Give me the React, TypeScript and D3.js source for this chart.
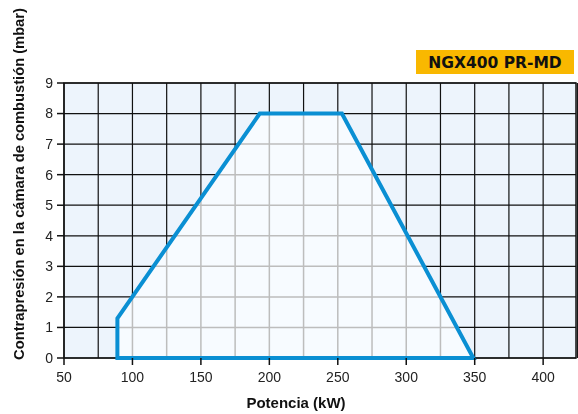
import React from 'react';
import * as d3 from 'd3';

const powerPoints = [89, 89, 193, 253, 349];
const pressurePoints = [0, 1.3, 8, 8, 0];
const xTicks = [50, 100, 150, 200, 250, 300, 350, 400];
const yTicks = [0, 1, 2, 3, 4, 5, 6, 7, 8, 9];
const xGrid = d3.range(50, 425.1, 25);
const title = 'NGX400 PR-MD';

const W = 578;
const H = 414;
const margin = { top: 83, right: 2, bottom: 56, left: 64 };

export default function App() {
  const x = d3.scaleLinear().domain([50, 424]).range([margin.left, W - margin.right]);
  const y = d3.scaleLinear().domain([0, 9]).range([H - margin.bottom, margin.top]);

  const pts: [number, number][] = powerPoints.map((p, i) => [x(p), y(pressurePoints[i])]);
  const poly = (d3.line()(pts) || '') + 'Z';

  const x0 = x(50), x1 = x(424), y0 = y(0), y1 = y(9);
  const font = '"Liberation Sans", Arial, Helvetica, sans-serif';

  const grid = (stroke: string, w: number) => (
    <g stroke={stroke} strokeWidth={w}>
      {xGrid.map(v => <line key={'x' + v} x1={x(v)} x2={x(v)} y1={y1} y2={y0} />)}
      {yTicks.map(v => <line key={'y' + v} x1={x0} x2={x1} y1={y(v)} y2={y(v)} />)}
    </g>
  );

  return (
    <svg width={W} height={H} style={{ position: 'fixed', left: 0, top: 0 }} fontFamily={font}>
      <defs>
        <clipPath id="env">
          <path d={poly} />
        </clipPath>
      </defs>
      <rect x={x0} y={y1} width={x1 - x0} height={y0 - y1} fill="#edf4fc" />
      {grid('#111', 1.2)}
      <path d={poly} fill="#f7fbff" />
      <g clipPath="url(#env)">{grid('#bdbdbd', 1.5)}</g>
      <rect x={x0} y={y1} width={x1 - x0} height={y0 - y1} fill="none" stroke="#111" strokeWidth={1.5} />
      <path d={poly} fill="none" stroke="#0a8fd3" strokeWidth={4} strokeLinejoin="miter" />

      {yTicks.map(v => (
        <g key={'yt' + v}>
          <line x1={x0 - 7} x2={x0} y1={y(v)} y2={y(v)} stroke="#111" strokeWidth={1.5} />
          <text x={x0 - 11} y={y(v)} dy="0.35em" textAnchor="end" fontSize={14} fill="#222">{v}</text>
        </g>
      ))}
      {xTicks.map(v => (
        <g key={'xt' + v}>
          <line x1={x(v)} x2={x(v)} y1={y0} y2={y0 + 7} stroke="#111" strokeWidth={1.5} />
          <text x={x(v)} y={y0 + 24} textAnchor="middle" fontSize={14} fill="#222">{v}</text>
        </g>
      ))}

      <text x={296} y={408} textAnchor="middle" fontSize={15} fontWeight="bold" fill="#111">Potencia (kW)</text>
      <text transform="translate(24,184) rotate(-90)" textAnchor="middle" fontSize={14.7} fontWeight="bold" fill="#111">
        Contrapresión en la cámara de combustión (mbar)
      </text>

      <rect x={416} y={50} width={158} height={24} fill="#f9b800" />
      <text x={495} y={62} dy="0.36em" textAnchor="middle" fontSize={15.5} fontWeight="bold" fill="#111"
        fontFamily='"DejaVu Sans", sans-serif'>{title}</text>
    </svg>
  );
}
